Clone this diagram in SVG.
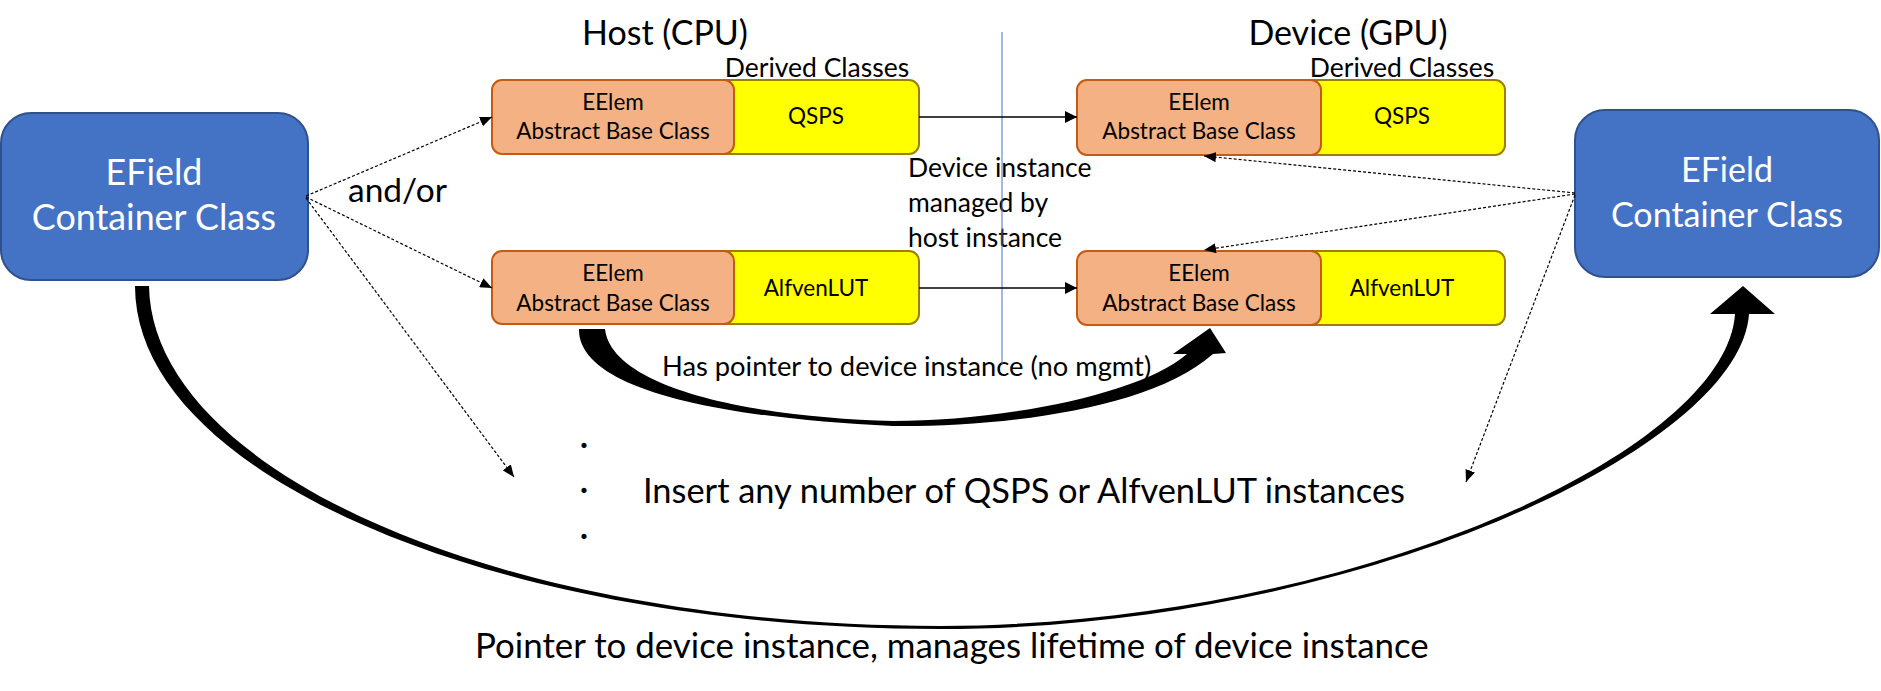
<svg xmlns="http://www.w3.org/2000/svg" width="1881" height="691" viewBox="0 0 1881 691">
<style>
text{font-family:Lato,"Liberation Sans",sans-serif;fill:#000}
.blue{fill:#4472C4;stroke:#2F528F;stroke-width:2}
.orange{fill:#F4B183;stroke:#C55A11;stroke-width:2}
.yellow{fill:#FFFF00;stroke:#9C7F00;stroke-width:2}
.wt{fill:#fff}
.head{font-size:34px}
.derived{font-size:26.5px}
.bt{font-size:22.5px}
.lbl{font-size:26.5px}
.big{font-size:34.4px}
.dash{fill:none;stroke:#000;stroke-width:1.2;stroke-dasharray:3 2;marker-end:url(#ahs)}
.solid{fill:none;stroke:#000;stroke-width:1.3;marker-end:url(#ah)}
</style>
<defs>
<marker id="ah" viewBox="0 0 12 12" refX="12" refY="6" markerWidth="12" markerHeight="12" orient="auto" markerUnits="userSpaceOnUse"><path d="M0,0 L12,6 L0,12 z" fill="#000"/></marker>
<marker id="ahs" viewBox="0 0 12 10" refX="12" refY="5" markerWidth="12" markerHeight="10" orient="auto" markerUnits="userSpaceOnUse"><path d="M0,0 L12,5 L0,10 z" fill="#000"/></marker>
</defs>
<rect width="1881" height="691" fill="#fff"/>

<g id="labels">
<text class="head" x="665" y="45" text-anchor="middle">Host (CPU)</text>
<text class="head" x="1348" y="45" text-anchor="middle">Device (GPU)</text>
<text class="derived" x="817" y="77" text-anchor="middle">Derived Classes</text>
<text class="derived" x="1402" y="77" text-anchor="middle">Derived Classes</text>
<text x="348" y="202" style="font-size:33.5px">and/or</text>
<text class="lbl" x="908" y="177">Device instance</text>
<text class="lbl" x="908" y="212">managed by</text>
<text class="lbl" x="908" y="247">host instance</text>
<text class="lbl" x="662" y="376" style="font-size:27.3px">Has pointer to device instance (no mgmt)</text>
<text class="big" x="584" y="456" text-anchor="middle">·</text>
<text class="big" x="584" y="501" text-anchor="middle">·</text>
<text class="big" x="584" y="547" text-anchor="middle">·</text>
<text class="big" x="643" y="503">Insert any number of QSPS or AlfvenLUT instances</text>
<text class="big" x="475" y="658" style="font-size:34.9px">Pointer to device instance, manages lifetime of device instance</text>
</g>

<g id="efield-left">
<rect class="blue" x="1" y="113" width="307" height="167" rx="30"/>
<text class="wt" x="154" y="185" text-anchor="middle" style="font-size:35.8px">EField</text>
<text class="wt" x="154" y="230" text-anchor="middle" style="font-size:35.8px">Container Class</text>
</g>

<g id="efield-right">
<rect class="blue" x="1575" y="110" width="304" height="167" rx="30"/>
<text class="wt" x="1727" y="182" text-anchor="middle" style="font-size:34px">EField</text>
<text class="wt" x="1727" y="227" text-anchor="middle" style="font-size:34px">Container Class</text>
</g>

<g id="host-qsps">
<rect class="yellow" x="712" y="80" width="207" height="74" rx="10"/>
<rect class="orange" x="492" y="80" width="242" height="74" rx="10"/>
<text class="bt" x="613" y="110" text-anchor="middle">EElem</text>
<text class="bt" x="613" y="139" text-anchor="middle">Abstract Base Class</text>
<text class="bt" x="816" y="124" text-anchor="middle">QSPS</text>
</g>

<g id="host-alfven">
<rect class="yellow" x="712" y="251" width="207" height="73" rx="10"/>
<rect class="orange" x="492" y="251" width="242" height="73" rx="10"/>
<text class="bt" x="613" y="281" text-anchor="middle">EElem</text>
<text class="bt" x="613" y="311" text-anchor="middle">Abstract Base Class</text>
<text class="bt" x="816" y="296" text-anchor="middle">AlfvenLUT</text>
</g>

<g id="device-qsps">
<rect class="yellow" x="1299" y="80" width="206" height="75" rx="10"/>
<rect class="orange" x="1077" y="80" width="244" height="75" rx="10"/>
<text class="bt" x="1199" y="110" text-anchor="middle">EElem</text>
<text class="bt" x="1199" y="139" text-anchor="middle">Abstract Base Class</text>
<text class="bt" x="1402" y="124" text-anchor="middle">QSPS</text>
</g>

<g id="device-alfven">
<rect class="yellow" x="1299" y="251" width="206" height="74" rx="10"/>
<rect class="orange" x="1077" y="251" width="244" height="74" rx="10"/>
<text class="bt" x="1199" y="281" text-anchor="middle">EElem</text>
<text class="bt" x="1199" y="311" text-anchor="middle">Abstract Base Class</text>
<text class="bt" x="1402" y="296" text-anchor="middle">AlfvenLUT</text>
</g>

<g id="connectors">
<line x1="1002" y1="32" x2="1002" y2="364" stroke="#4472C4" stroke-width="1"/>
<path class="dash" d="M306,196 L492,117"/>
<path class="dash" d="M306,197 L492,288"/>
<path class="dash" d="M306,198 L514,477"/>
<path class="dash" d="M1575,193 L1204,156"/>
<path class="dash" d="M1575,194 L1204,250"/>
<path class="dash" d="M1575,195 L1466,482"/>
<path class="solid" d="M919,117 L1077,117"/>
<path class="solid" d="M919,288 L1077,288"/>
<path d="M579,329 C578,385 700,417 893,426 C1000,427 1150,410 1213,354 L1226,353 L1210,328 L1173,354 L1187,354 C1140,395 1000,421 893,421 C760,418 612,390 605,329 Z" fill="#000"/>
<path d="M135,286 C135,475 496,629 940,629 C1350,629 1740,450 1749,314 L1775,314 L1743,286 L1710,314 L1735,314 C1726,452 1350,625 940,626 C496,626 152,470 149,286 Z" fill="#000"/>
</g>
</svg>
